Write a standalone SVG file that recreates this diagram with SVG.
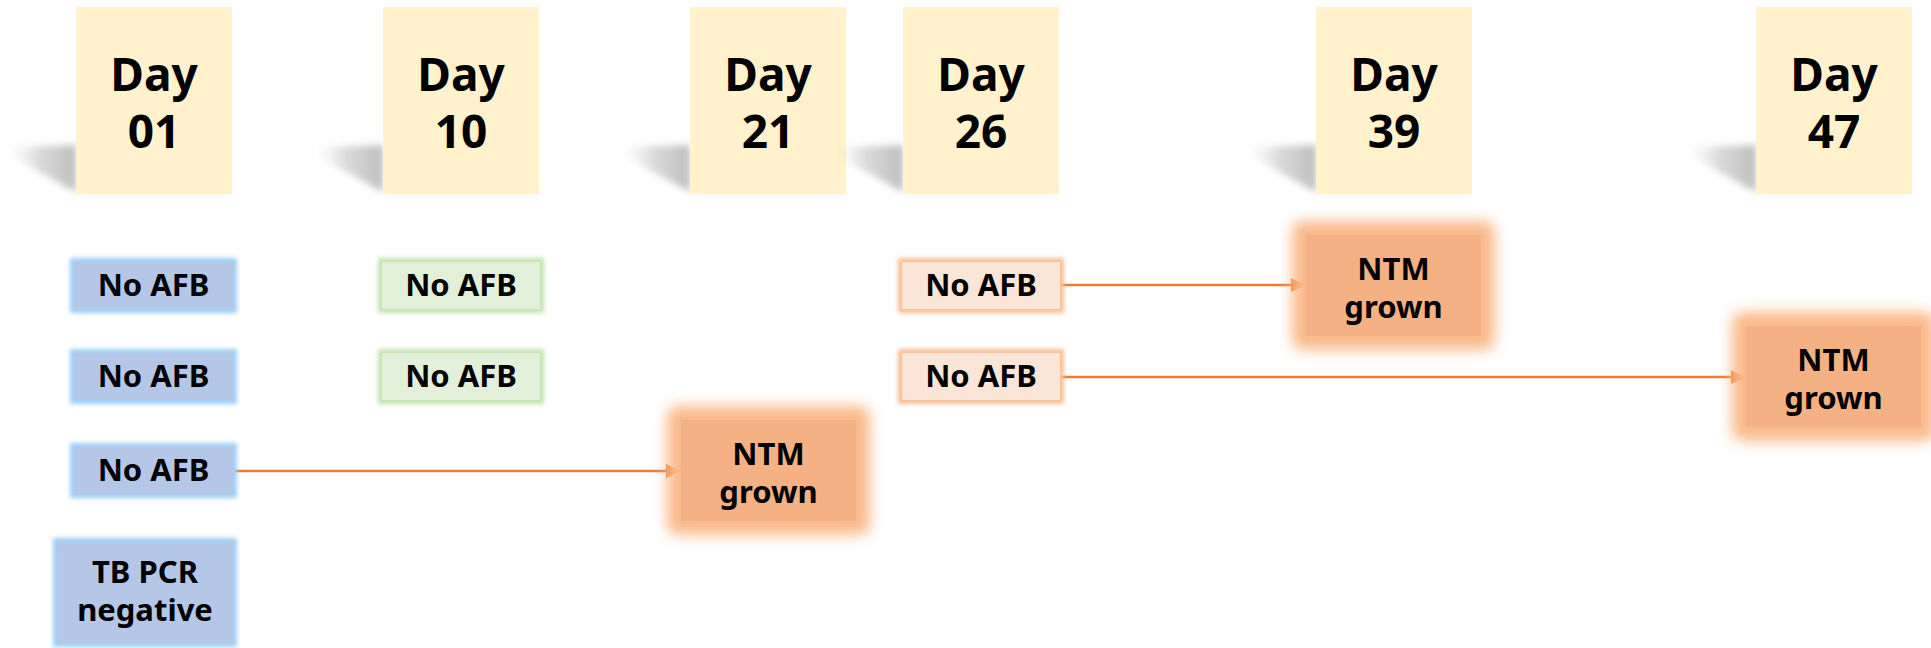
<svg xmlns="http://www.w3.org/2000/svg" width="1931" height="648" viewBox="0 0 1931 648">
<defs>
<style>
.t{font-family:"Noto Sans","Liberation Sans",sans-serif;font-weight:bold;fill:#000;text-anchor:middle}
.day{font-size:46px}
.lbl{font-size:31px}
.dayBox{fill:#fff2cc}
.blue{fill:#b4c7e7}
.blueGlow{fill:none;stroke:#9dcff5;stroke-width:8}
.green{fill:#e2f0d9}
.greenGlow{fill:none;stroke:#c2e4ad;stroke-width:8}
.peach{fill:#fbe5d6}
.peachGlow{fill:none;stroke:#f8bf92;stroke-width:8}
.ntm{fill:#f4b183}
.ntmGlow{fill:#f9b98a}
.conn{stroke:#ed7d31;stroke-width:2.5;fill:none}
</style>
<filter id="soft" x="-20%" y="-20%" width="140%" height="140%"><feGaussianBlur stdDeviation="2"/></filter>
<filter id="wide" x="-30%" y="-30%" width="160%" height="160%"><feGaussianBlur stdDeviation="7"/></filter>
<filter id="sh" x="-30%" y="-50%" width="160%" height="200%"><feGaussianBlur stdDeviation="3.5"/></filter>
<linearGradient id="shg" x1="0" y1="0" x2="1" y2="0">
<stop offset="0" stop-color="#cccccc" stop-opacity="0"/>
<stop offset="0.45" stop-color="#b5b5b5" stop-opacity="0.5"/>
<stop offset="1" stop-color="#a0a0a0" stop-opacity="0.7"/>
</linearGradient>
<marker id="ah" markerWidth="15" markerHeight="14" refX="15" refY="7" orient="auto" markerUnits="userSpaceOnUse">
<path d="M0,0 L15,7 L0,14 Z" fill="#ed7d31"/>
</marker>
<g id="dayShadow">
<polygon points="-66,147 0,145 0,192 -66,156" fill="url(#shg)" filter="url(#sh)"/>
<rect x="4" y="189" width="150" height="6" fill="#d9d9d9" opacity="0.4" filter="url(#sh)"/>
</g>
</defs>

<g id="connectors">
<line class="conn" x1="235" y1="471" x2="681" y2="471" marker-end="url(#ah)"/>
<line class="conn" x1="1060" y1="285" x2="1306" y2="285" marker-end="url(#ah)"/>
<line class="conn" x1="1060" y1="377" x2="1746" y2="377" marker-end="url(#ah)"/>
</g>

<g id="day01"><use href="#dayShadow" x="76"/><rect class="dayBox" x="76" y="7" width="156" height="187"/><text class="t day" x="154" y="91">Day</text><text class="t day" x="154" y="148">01</text></g>
<g id="day10"><use href="#dayShadow" x="383"/><rect class="dayBox" x="383" y="7" width="156" height="187"/><text class="t day" x="461" y="91">Day</text><text class="t day" x="461" y="148">10</text></g>
<g id="day21"><use href="#dayShadow" x="690"/><rect class="dayBox" x="690" y="7" width="156" height="187"/><text class="t day" x="768" y="91">Day</text><text class="t day" x="768" y="148">21</text></g>
<g id="day26"><use href="#dayShadow" x="903"/><rect class="dayBox" x="903" y="7" width="156" height="187"/><text class="t day" x="981" y="91">Day</text><text class="t day" x="981" y="148">26</text></g>
<g id="day39"><use href="#dayShadow" x="1316"/><rect class="dayBox" x="1316" y="7" width="156" height="187"/><text class="t day" x="1394" y="91">Day</text><text class="t day" x="1394" y="148">39</text></g>
<g id="day47"><use href="#dayShadow" x="1756"/><rect class="dayBox" x="1756" y="7" width="156" height="187"/><text class="t day" x="1834" y="91">Day</text><text class="t day" x="1834" y="148">47</text></g>

<g id="d01a"><rect class="blueGlow" x="74" y="262" width="159" height="47" filter="url(#soft)"/><rect class="blue" x="74" y="262" width="159" height="47"/><text class="t lbl" x="153.5" y="296">No AFB</text></g>
<g id="d01b"><rect class="blueGlow" x="74" y="353" width="159" height="47" filter="url(#soft)"/><rect class="blue" x="74" y="353" width="159" height="47"/><text class="t lbl" x="153.5" y="387">No AFB</text></g>
<g id="d01c"><rect class="blueGlow" x="74" y="447" width="159" height="47" filter="url(#soft)"/><rect class="blue" x="74" y="447" width="159" height="47"/><text class="t lbl" x="153.5" y="481">No AFB</text></g>
<g id="d01d"><rect class="blueGlow" x="57" y="542" width="176" height="101" filter="url(#soft)"/><rect class="blue" x="57" y="542" width="176" height="101"/><text class="t lbl" x="145" y="583">TB PCR</text><text class="t lbl" x="145" y="621">negative</text></g>

<g id="d10a"><rect class="greenGlow" x="382" y="262" width="158" height="47" filter="url(#soft)"/><rect class="green" x="382" y="262" width="158" height="47"/><text class="t lbl" x="461" y="296">No AFB</text></g>
<g id="d10b"><rect class="greenGlow" x="382" y="353" width="158" height="47" filter="url(#soft)"/><rect class="green" x="382" y="353" width="158" height="47"/><text class="t lbl" x="461" y="387">No AFB</text></g>

<g id="d21"><rect class="ntmGlow" x="667" y="406" width="203" height="129" rx="10" filter="url(#wide)"/><rect class="ntm" x="681" y="420" width="175" height="101"/><text class="t lbl" x="768.5" y="465">NTM</text><text class="t lbl" x="768.5" y="503">grown</text></g>

<g id="d26a"><rect class="peachGlow" x="902" y="262" width="158" height="47" filter="url(#soft)"/><rect class="peach" x="902" y="262" width="158" height="47"/><text class="t lbl" x="981" y="296">No AFB</text></g>
<g id="d26b"><rect class="peachGlow" x="902" y="353" width="158" height="47" filter="url(#soft)"/><rect class="peach" x="902" y="353" width="158" height="47"/><text class="t lbl" x="981" y="387">No AFB</text></g>

<g id="d39"><rect class="ntmGlow" x="1292" y="221" width="203" height="129" rx="10" filter="url(#wide)"/><rect class="ntm" x="1306" y="235" width="175" height="101"/><text class="t lbl" x="1393.5" y="280">NTM</text><text class="t lbl" x="1393.5" y="318">grown</text></g>

<g id="d47"><rect class="ntmGlow" x="1732" y="312" width="203" height="129" rx="10" filter="url(#wide)"/><rect class="ntm" x="1746" y="326" width="175" height="101"/><text class="t lbl" x="1833.5" y="371">NTM</text><text class="t lbl" x="1833.5" y="409">grown</text></g>
</svg>
